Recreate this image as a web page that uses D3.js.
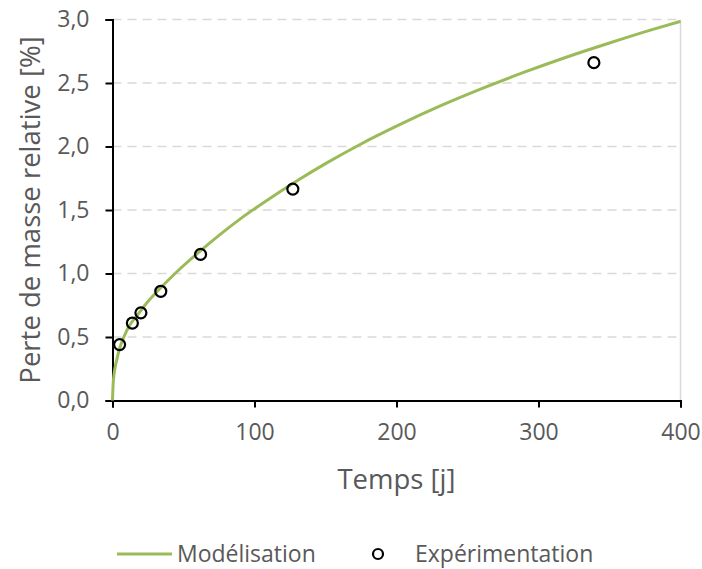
<!DOCTYPE html>
<html><head><meta charset="utf-8">
<script src="https://cdn.jsdelivr.net/npm/d3@7/dist/d3.min.js"></script>
<style>
html,body{margin:0;padding:0;background:#fff;}
svg{display:block;font-family:"Open Sans",sans-serif;}
</style></head>
<body><svg id="c" width="702" height="569"></svg>
<script>
// Modélisation curve
const modelT = [0, 0.5, 1, 2, 3, 5, 8, 12, 18, 25, 35, 45, 60, 75, 90, 110, 130, 150, 175, 200, 230, 260, 290, 320, 350, 380, 400];
const modelV = [0, 0.14, 0.2, 0.27, 0.32, 0.41, 0.5, 0.59, 0.68, 0.78, 0.9, 1.01, 1.16, 1.30, 1.43, 1.585, 1.73, 1.865, 2.02, 2.16, 2.315, 2.455, 2.585, 2.705, 2.815, 2.92, 2.985];
// Expérimentation points
const expT = [5, 14, 20, 34, 62, 127, 339];
const expV = [0.44, 0.61, 0.69, 0.86, 1.15, 1.665, 2.66];
const xTicks = [0, 100, 200, 300, 400];
const yTicks = [0, 0.5, 1.0, 1.5, 2.0, 2.5, 3.0];
const xTitle = "Temps [j]";
const yTitle = "Perte de masse relative [%]";
const legendLabels = ["Modélisation", "Expérimentation"];

const svg = d3.select("#c");
const L = 112.5, R = 680.5, T = 19.5, B = 400.5;
const x = d3.scaleLinear().domain([0, 400]).range([L, R]);
const y = d3.scaleLinear().domain([0, 3]).range([B, T]);
const grey = "#595959";
const green = "#9BBB59";

// gridlines
svg.append("g").selectAll("line").data(yTicks.filter(d => d > 0)).join("line")
  .attr("x1", L).attr("x2", R).attr("y1", d => y(d)).attr("y2", d => y(d))
  .attr("stroke", "#d9d9d9").attr("stroke-width", 1.5).attr("stroke-dasharray", "9,6");
// right border
svg.append("line").attr("x1", R).attr("x2", R).attr("y1", T).attr("y2", B)
  .attr("stroke", "#d9d9d9").attr("stroke-width", 1.5);

// axes
const fmt = d => d3.format(".1f")(d).replace(".", ",");
const yAxis = svg.append("g").attr("transform", `translate(${L},0)`)
  .call(d3.axisLeft(y).tickValues(yTicks).tickFormat(fmt).tickSize(7).tickPadding(16));
const xAxis = svg.append("g").attr("transform", `translate(0,${B})`)
  .call(d3.axisBottom(x).tickValues(xTicks).tickFormat(d3.format("d")).tickSize(7).tickPadding(16));
[yAxis, xAxis].forEach(a => {
  a.select(".domain").attr("stroke", "#000").attr("stroke-width", 2);
  a.selectAll(".tick line").attr("stroke", "#000").attr("stroke-width", 2);
  a.selectAll(".tick text").attr("fill", grey).style("font-size", "23px")
    .style("font-family", "'Open Sans', sans-serif");
});

// curve
const line = d3.line().x(d => x(d[0])).y(d => y(d[1])).curve(d3.curveMonotoneX);
svg.append("path").datum(modelT.map((t, i) => [t, modelV[i]]))
  .attr("d", line).attr("fill", "none").attr("stroke", green).attr("stroke-width", 3);

// points
svg.append("g").selectAll("circle").data(expT.map((t, i) => [t, expV[i]])).join("circle")
  .attr("cx", d => x(d[0])).attr("cy", d => y(d[1])).attr("r", 5.5)
  .attr("fill", "none").attr("stroke", "#000").attr("stroke-width", 2.2);

// titles
svg.append("text").attr("x", (L + R) / 2).attr("y", 489).attr("text-anchor", "middle")
  .attr("fill", grey).style("font-size", "27.5px").text(xTitle);
svg.append("text").attr("transform", "translate(40,210) rotate(-90)").attr("text-anchor", "middle")
  .attr("fill", grey).style("font-size", "27.5px").text(yTitle);

// legend
svg.append("line").attr("x1", 117).attr("x2", 172).attr("y1", 554).attr("y2", 554)
  .attr("stroke", green).attr("stroke-width", 3);
svg.append("text").attr("x", 177).attr("y", 562).attr("fill", grey).style("font-size", "23px").text(legendLabels[0]);
svg.append("circle").attr("cx", 378).attr("cy", 554).attr("r", 5)
  .attr("fill", "#fff").attr("stroke", "#000").attr("stroke-width", 2.2);
svg.append("text").attr("x", 415).attr("y", 562).attr("fill", grey).style("font-size", "23px").text(legendLabels[1]);
</script></body></html>
